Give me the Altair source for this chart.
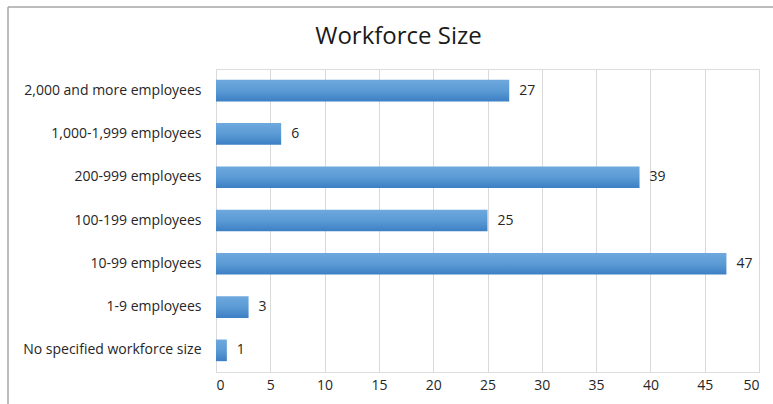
import altair as alt
import pandas as pd

categories = [
    "2,000 and more employees",
    "1,000-1,999 employees",
    "200-999 employees",
    "100-199 employees",
    "10-99 employees",
    "1-9 employees",
    "No specified workforce size",
]
values = [27, 6, 39, 25, 47, 3, 1]

df = pd.DataFrame({"category": categories, "value": values})

FONT = "Open Sans"

y_enc = alt.Y("category:N", sort=categories, title=None,
              scale=alt.Scale(paddingInner=0.5, paddingOuter=0.25),
              axis=alt.Axis(labelFontSize=14, labelColor="#262626", labelFont=FONT,
                            ticks=False, domain=False, labelPadding=15, grid=False))
x_enc = alt.X("value:Q", title=None,
              scale=alt.Scale(domain=[0, 50], nice=False),
              axis=alt.Axis(values=list(range(0, 51, 5)), labelFontSize=14, labelColor="#262626",
                            labelFont=FONT, ticks=False, domain=False, labelPadding=6,
                            grid=True, gridColor="#d9d9d9", gridWidth=1))

base = alt.Chart(df)

bars = base.mark_bar(
    color=alt.Gradient(
        gradient="linear",
        stops=[alt.GradientStop(color="#6ea8de", offset=0),
               alt.GradientStop(color="#5b9bd5", offset=0.5),
               alt.GradientStop(color="#3c7fc4", offset=1)],
        x1=0, x2=0, y1=0, y2=1,
    )
).encode(x=x_enc, y=y_enc)

labels = base.mark_text(align="left", baseline="middle", dx=10, fontSize=14,
                        font=FONT, color="#262626").encode(
    x=alt.X("value:Q"), y=alt.Y("category:N", sort=categories), text="value:Q")

frame_df = pd.DataFrame({"a": [0]})
top_line = alt.Chart(frame_df).mark_rule(color="#a6a6a6", strokeWidth=1.5).encode(
    x=alt.value(-208), x2=alt.value(560), y=alt.value(-62))
left_line = alt.Chart(frame_df).mark_rule(color="#a6a6a6", strokeWidth=1.5).encode(
    x=alt.value(-208), y=alt.value(-62), y2=alt.value(340))

chart = alt.layer(bars, labels, top_line, left_line).properties(
    width=543, height=303,
    title=alt.TitleParams("Workforce Size", fontSize=24, font=FONT, fontWeight="normal",
                          color="#1a1a1a", offset=-43, anchor="middle", frame="group", dx=-89),
    padding={"left": 216, "top": 69, "right": 14, "bottom": 32},
    autosize="none",
).configure_view(stroke=None).configure(background="white")

chart.save("out.html", embed_options={"renderer": "svg", "actions": False})
